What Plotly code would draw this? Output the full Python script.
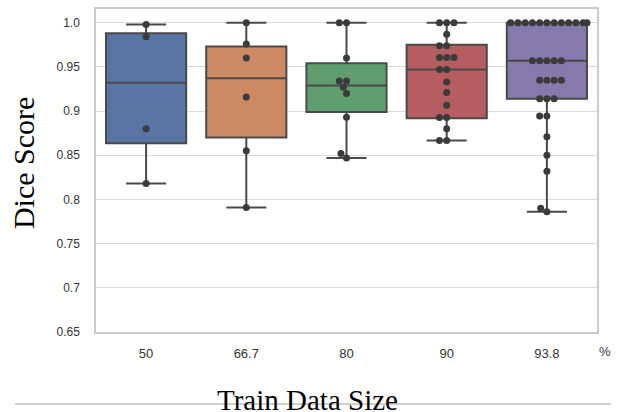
import numpy as np
import plotly.graph_objects as go

# ---------------- data ----------------
categories = ["50", "66.7", "80", "90", "93.8"]

scores_50 = [0.998, 0.984, 0.880, 0.818]
scores_66_7 = [1.0, 0.976, 0.960, 0.916, 0.855, 0.791]
scores_80 = [1.0, 1.0, 0.960, 0.934, 0.934, 0.927, 0.920, 0.893, 0.852, 0.847]
scores_90 = [1.0, 1.0, 1.0, 0.987, 0.974, 0.974, 0.9605, 0.9605, 0.9605,
             0.947, 0.947, 0.933, 0.921, 0.9065, 0.8926, 0.8926, 0.880,
             0.8666, 0.8666]
scores_93_8 = [1.0, 1.0, 1.0, 1.0, 1.0, 1.0, 1.0, 1.0, 1.0, 1.0, 1.0, 1.0,
               0.957, 0.957, 0.957, 0.957, 0.957,
               0.935, 0.935, 0.935, 0.935,
               0.914, 0.914, 0.914,
               0.8945, 0.8945, 0.871, 0.850, 0.832, 0.790, 0.786]

# box statistics as drawn
q1_vals = [0.8635, 0.870, 0.899, 0.892, 0.914]
median_vals = [0.932, 0.937, 0.929, 0.947, 0.957]
q3_vals = [0.988, 0.973, 0.954, 0.975, 1.0]
lower_whisker = [0.818, 0.791, 0.847, 0.8666, 0.786]
upper_whisker = [0.998, 1.0, 1.0, 1.0, 1.0]

y_ticks = [0.65, 0.7, 0.75, 0.8, 0.85, 0.9, 0.95, 1.0]
y_tick_text = ["0.65", "0.7", "0.75", "0.8", "0.85", "0.9", "0.95", "1.0"]

all_scores = [scores_50, scores_66_7, scores_80, scores_90, scores_93_8]
box_colors = ["#5875A4", "#CC8963", "#5F9E6E", "#B55D60", "#857AAB"]

# ---------------- layout geometry ----------------
W, H = 619, 412
ML, MR, MT, MB = 96, 22, 7, 80
YR = [0.65, 1.0155]
XR = [-0.5, 4.5]
plot_w = W - ML - MR
plot_h = H - MT - MB
px_per_x = plot_w / (XR[1] - XR[0])
px_per_y = plot_h / (YR[1] - YR[0])


def paper_x(px):
    return (px - ML) / plot_w


def paper_y(py):
    return (H - MB - py) / plot_h


# ---------------- beeswarm (seaborn-like) ----------------
R = 3.45  # dot radius in px
GUTTER = 0.4  # half width in data units


def swarm_offsets(values):
    vals = np.asarray(values, dtype=float)
    order = np.argsort(vals, kind="stable")
    ys = vals[order] * px_per_y
    placed = []
    for y_i in ys:
        if not placed:
            placed.append((0.0, y_i))
            continue
        neighbors = []
        for x_j, y_j in reversed(placed):
            if (y_i - y_j) < 2 * R:
                neighbors.append((x_j, y_j))
            else:
                break
        cands = [0.0]
        left_first = True
        for x_j, y_j in neighbors:
            dy = y_i - y_j
            dx = np.sqrt(max((2 * R) ** 2 - dy ** 2, 0)) * 1.05
            cl, cr = x_j - dx, x_j + dx
            cands.extend([cl, cr] if left_first else [cr, cl])
            left_first = not left_first
        cands = np.array(cands)
        cands = cands[np.argsort(np.abs(cands), kind="stable")]
        chosen = cands[-1]
        for c in cands:
            ok = True
            for x_j, y_j in neighbors:
                if (c - x_j) ** 2 + (y_i - y_j) ** 2 < (2 * R) ** 2 - 1e-6:
                    ok = False
                    break
            if ok:
                chosen = c
                break
        placed.append((chosen, y_i))
    offs = np.array([p[0] for p in placed]) / px_per_x
    offs = np.clip(offs, -GUTTER, GUTTER)
    out_x = np.empty_like(offs)
    out_x[order] = offs
    return out_x


fig = go.Figure()

for i, cat in enumerate(categories):
    fig.add_trace(go.Box(
        x=[i], q1=[q1_vals[i]], median=[median_vals[i]], q3=[q3_vals[i]],
        lowerfence=[lower_whisker[i]], upperfence=[upper_whisker[i]],
        width=0.8, whiskerwidth=0.5,
        fillcolor=box_colors[i],
        line=dict(color="#4a4a4a", width=2),
        boxpoints=False, showlegend=False, hoverinfo="skip",
    ))

for i, vals in enumerate(all_scores):
    offs = swarm_offsets(vals)
    fig.add_trace(go.Scatter(
        x=i + offs, y=vals, mode="markers",
        marker=dict(color="#3b3b3b", size=7, line=dict(width=0)),
        showlegend=False,
    ))

TICK_FONT_X = dict(family="Liberation Sans, Arial, sans-serif", size=13, color="#333333")
TICK_FONT_Y = dict(family="Liberation Sans, Arial, sans-serif", size=12, color="#333333")
SERIF = dict(family="Liberation Serif, Times New Roman, serif", size=30, color="black")
SERIF_X = dict(family="Liberation Serif, Times New Roman, serif", size=29, color="black")

fig.update_layout(
    width=W, height=H,
    margin=dict(l=ML, r=MR, t=MT, b=MB),
    paper_bgcolor="white", plot_bgcolor="white",
    boxmode="overlay",
    font=dict(family="Liberation Sans, Arial, sans-serif", size=11, color="#333333"),
    xaxis=dict(
        range=XR, tickmode="array", tickvals=list(range(len(categories))),
        ticktext=categories, showgrid=False, zeroline=False,
        showline=True, mirror=True, linecolor="#cccccc", linewidth=1.5,
        ticks="", ticklabelstandoff=9, tickfont=TICK_FONT_X,
    ),
    yaxis=dict(
        range=YR, tickmode="array", tickvals=y_ticks, ticktext=y_tick_text,
        showgrid=True, gridcolor="#d9d9d9", gridwidth=1, zeroline=False,
        showline=True, mirror=True, linecolor="#cccccc", linewidth=1.5,
        ticks="", ticklabelstandoff=12, tickfont=TICK_FONT_Y,
    ),
    annotations=[
        dict(text="%", xref="paper", yref="paper", x=paper_x(605), y=paper_y(351.5),
             showarrow=False, xanchor="center", yanchor="middle", font=TICK_FONT_X),
        dict(text="Dice Score", xref="paper", yref="paper", x=paper_x(23), y=paper_y(162),
             textangle=-90, showarrow=False, xanchor="center", yanchor="middle", font=SERIF),
        dict(text="Train Data Size", xref="paper", yref="paper", x=paper_x(307.5), y=paper_y(400),
             showarrow=False, xanchor="center", yanchor="middle", font=SERIF_X),
    ],
    shapes=[
        dict(type="line", xref="paper", yref="paper",
             x0=paper_x(15), x1=paper_x(611), y0=paper_y(404.5), y1=paper_y(404.5),
             line=dict(color="#a0a0a0", width=1), layer="below"),
    ],
)

fig.write_html("out.html", config={"displayModeBar": False},
               post_script="document.body.style.margin='0';")
